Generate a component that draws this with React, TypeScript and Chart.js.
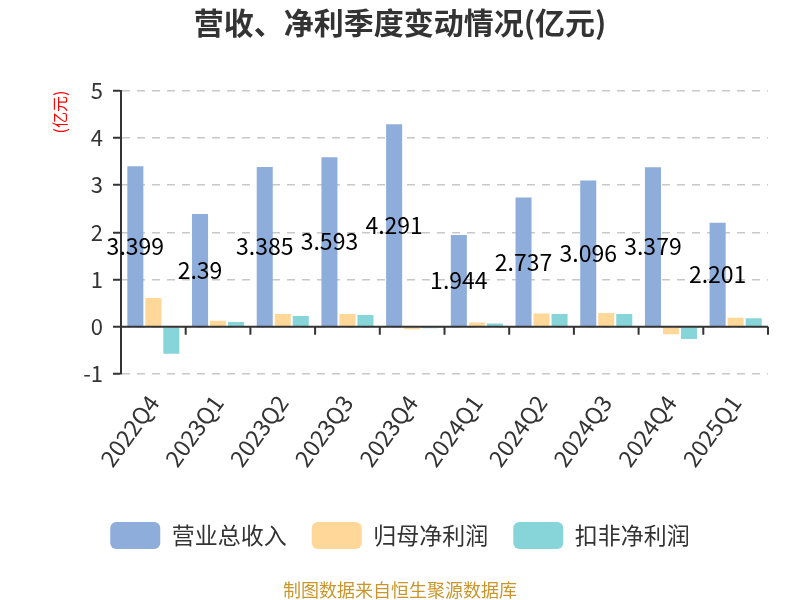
import React, { useEffect, useRef } from "react";
import { Chart, registerables } from "chart.js";

Chart.register(...registerables);

const categories = ["2022Q4", "2023Q1", "2023Q2", "2023Q3", "2023Q4", "2024Q1", "2024Q2", "2024Q3", "2024Q4", "2025Q1"];
const revenue = [3.399, 2.39, 3.385, 3.593, 4.291, 1.944, 2.737, 3.096, 3.379, 2.201];
const netProfit = [0.61, 0.13, 0.27, 0.27, -0.05, 0.09, 0.28, 0.29, -0.16, 0.19];
const deductedProfit = [-0.57, 0.1, 0.23, 0.25, -0.03, 0.07, 0.27, 0.27, -0.26, 0.18];
const seriesNames = ["营业总收入", "归母净利润", "扣非净利润"];
const yTicks = [-1, 0, 1, 2, 3, 4, 5];

const TITLE = "营收、净利季度变动情况(亿元)";
const FOOTER = "制图数据来自恒生聚源数据库";
const UNIT = "(亿元)";
const FONT = "'Noto Sans CJK SC', 'Noto Sans', sans-serif";

const decorPlugin = {
  id: "decor",
  afterDatasetsDraw(chart: any) {
    const ctx = chart.ctx;
    const x = chart.scales.x;
    const y = chart.scales.y;
    const zeroY = y.getPixelForValue(0);
    ctx.save();
    ctx.strokeStyle = "#333";
    ctx.lineWidth = 2;
    ctx.setLineDash([]);
    ctx.beginPath();
    ctx.moveTo(chart.chartArea.left, zeroY);
    ctx.lineTo(chart.chartArea.right, zeroY);
    const n = chart.data.labels.length;
    const step = x.getPixelForValue(1) - x.getPixelForValue(0);
    for (let i = 0; i < n; i++) {
      const bx = x.getPixelForValue(i) + step / 2;
      ctx.moveTo(bx, zeroY);
      ctx.lineTo(bx, zeroY + 8);
    }
    ctx.stroke();
    const meta = chart.getDatasetMeta(0);
    ctx.fillStyle = "#000";
    ctx.font = `23px ${FONT}`;
    ctx.textAlign = "center";
    ctx.textBaseline = "middle";
    meta.data.forEach((el: any, i: number) => {
      const v = chart.data.datasets[0].data[i];
      ctx.fillText(String(v), el.x, (el.y + el.base) / 2);
    });
    ctx.restore();
  },
  afterDraw(chart: any) {
    const ctx = chart.ctx;
    ctx.save();
    ctx.textAlign = "center";
    ctx.textBaseline = "middle";
    ctx.fillStyle = "#333";
    ctx.font = `bold 30px ${FONT}`;
    ctx.fillText(TITLE, 400, 23);
    ctx.fillStyle = "#C9962B";
    ctx.font = `18px ${FONT}`;
    ctx.fillText(FOOTER, 400, 590);
    ctx.restore();
  },
};

export default function App() {
  const ref = useRef<HTMLCanvasElement | null>(null);
  useEffect(() => {
    if (!ref.current) return;
    const chart = new Chart(ref.current, {
      type: "bar",
      data: {
        labels: categories,
        datasets: [
          { label: seriesNames[0], data: revenue, backgroundColor: "#8EADDB", borderWidth: 0 },
          { label: seriesNames[1], data: netProfit, backgroundColor: "#FFD899", borderWidth: 0 },
          { label: seriesNames[2], data: deductedProfit, backgroundColor: "#87D4D9", borderWidth: 0 },
        ],
      },
      options: {
        responsive: false,
        animation: false,
        datasets: { bar: { categoryPercentage: 0.835, barPercentage: 0.89 } },
        layout: { padding: { top: 90.7, left: 32, right: 32, bottom: 41 } },
        plugins: {
          title: { display: false },
          tooltip: { enabled: false },
          legend: {
            position: "bottom",
            labels: {
              boxWidth: 50,
              boxHeight: 27,
              useBorderRadius: true,
              borderRadius: 6,
              padding: 25,
              color: "#333",
              font: { size: 23, family: FONT },
            },
          },
        },
        scales: {
          x: {
            afterFit(scale: any) {
              scale.height = 123;
            },
            grid: { display: false },
            border: { display: false },
            ticks: {
              autoSkip: false,
              maxRotation: 54,
              minRotation: 54,
              padding: 8,
              color: "#333",
              font: { size: 23, family: FONT },
            },
          },
          y: {
            min: -1,
            max: 5,
            afterFit(scale: any) {
              scale.width = 89;
            },
            afterBuildTicks(scale: any) {
              scale.ticks = yTicks.map((v) => ({ value: v }));
            },
            border: { display: true, color: "#333", width: 2, dash: [8, 7] },
            grid: {
              color: "#c8c8c8",
              lineWidth: 1.5,
              drawTicks: true,
              tickLength: 8,
              tickColor: "#333",
              tickWidth: 2,
              tickBorderDash: [],
            },
            ticks: {
              padding: 10,
              color: "#333",
              font: { size: 22, family: FONT },
            },
            title: {
              display: true,
              text: UNIT,
              align: "end",
              color: "#ff0000",
              font: { size: 16, family: FONT },
              padding: { top: 18, bottom: 0 },
            },
          },
        },
      },
      plugins: [decorPlugin],
    } as any);
    return () => chart.destroy();
  }, []);
  return (
    <div style={{ position: "fixed", left: 0, top: 0, width: 800, height: 600, background: "#fff" }}>
      <canvas ref={ref} width={800} height={600} style={{ display: "block" }} />
    </div>
  );
}
